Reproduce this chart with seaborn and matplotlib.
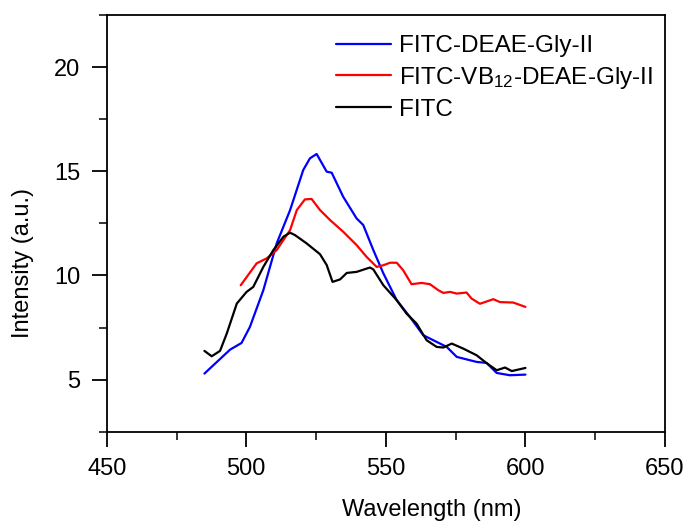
import matplotlib
matplotlib.use("Agg")
import matplotlib.pyplot as plt
from matplotlib.ticker import MultipleLocator
import pandas as pd
import seaborn as sns

# FITC-DEAE-Gly-II (blue)
blue_wl = [485.0, 494.2, 498.3, 501.3, 506.1, 510.9, 515.7, 520.4, 522.8, 525.2,
           528.8, 530.6, 534.7, 539.5, 541.9, 545.5, 549.1, 553.9, 558.6, 563.4,
           568.2, 571.8, 575.4, 582.5, 586.1, 589.7, 594.4, 600.0]
blue_int = [5.29, 6.44, 6.76, 7.53, 9.29, 11.54, 13.14, 15.06, 15.62, 15.83,
            14.98, 14.93, 13.78, 12.74, 12.42, 11.22, 10.10, 8.81, 8.01, 7.13,
            6.81, 6.57, 6.09, 5.85, 5.80, 5.32, 5.21, 5.24]

# FITC-VB12-DEAE-Gly-II (red)
red_wl = [498.0, 503.7, 507.3, 510.9, 515.7, 518.1, 521.0, 523.4, 526.4, 530.0,
          534.7, 539.5, 543.1, 546.7, 549.1, 551.5, 553.9, 556.2, 559.2, 562.8,
          565.8, 568.8, 570.6, 573.0, 575.4, 578.9, 580.7, 583.7, 588.5, 590.9,
          595.6, 600.0]
red_int = [9.53, 10.58, 10.82, 11.22, 12.18, 13.14, 13.65, 13.67, 13.14, 12.66,
           12.10, 11.46, 10.89, 10.41, 10.49, 10.61, 10.61, 10.25, 9.58, 9.64,
           9.58, 9.29, 9.16, 9.21, 9.13, 9.18, 8.89, 8.64, 8.86, 8.72,
           8.70, 8.49]

# FITC (black)
black_wl = [485.0, 487.6, 490.6, 493.0, 496.6, 500.1, 502.5, 506.1, 509.7, 513.3,
            515.7, 517.4, 521.6, 526.4, 528.8, 530.9, 533.6, 536.0, 539.5, 544.3,
            545.5, 549.1, 553.9, 557.4, 561.0, 564.6, 568.2, 570.6, 573.6, 577.7,
            582.5, 586.0, 589.7, 592.7, 595.1, 600.0]
black_int = [6.38, 6.12, 6.38, 7.21, 8.65, 9.21, 9.45, 10.41, 11.22, 11.86,
             12.05, 11.94, 11.54, 11.02, 10.50, 9.69, 9.81, 10.12, 10.17, 10.38,
             10.29, 9.53, 8.81, 8.17, 7.69, 6.89, 6.57, 6.54, 6.73, 6.49,
             6.17, 5.80, 5.45, 5.58, 5.41, 5.56]

sns.set_style("ticks")
plt.rcParams['font.family'] = ['Liberation Sans', 'DejaVu Sans']
plt.rcParams['mathtext.default'] = 'regular'
plt.rcParams['text.color'] = 'black'
plt.rcParams['axes.labelcolor'] = 'black'

fig = plt.figure(figsize=(6.85, 5.21), dpi=100)
ax = fig.add_axes([0.1558, 0.1714, 0.8150, 0.7998])

series = [
    ("FITC-DEAE-Gly-II", blue_wl, blue_int, "#0000ff"),
    ("FITC-VB$_{12}$-DEAE-Gly-II", red_wl, red_int, "#ff0000"),
    ("FITC", black_wl, black_int, "#000000"),
]
for name, wl, inten, col in series:
    df = pd.DataFrame({"wl": wl, "int": inten})
    sns.lineplot(data=df, x="wl", y="int", ax=ax, color=col, lw=1.6,
                 label=name, sort=False)

ax.set_xlim(450, 650)
ax.set_ylim(2.5, 22.5)
ax.xaxis.set_major_locator(MultipleLocator(50))
ax.xaxis.set_minor_locator(MultipleLocator(25))
ax.yaxis.set_major_locator(MultipleLocator(5))
ax.yaxis.set_minor_locator(MultipleLocator(2.5))
ax.tick_params(which='major', direction='out', length=11, width=1.3,
               labelsize=17, colors='black', pad=8)
ax.tick_params(which='minor', direction='out', length=5.5, width=1.3)
for s in ax.spines.values():
    s.set_linewidth(1.3)
    s.set_color('black')

ax.set_xlabel("Wavelength (nm)", fontsize=17)
ax.set_ylabel("Intensity (a.u.)", fontsize=17)
ax.xaxis.set_label_coords(0.583, -0.162)
ax.yaxis.set_label_coords(-0.13, 0.405)

leg = ax.legend(loc='upper left', bbox_to_anchor=(0.393, 0.975), frameon=False,
                fontsize=17.5, handlelength=2.26, labelspacing=0.32,
                handletextpad=0.33, borderaxespad=0)
for t in leg.get_texts():
    t.set_color('black')

fig.savefig("out.png", dpi=100)
